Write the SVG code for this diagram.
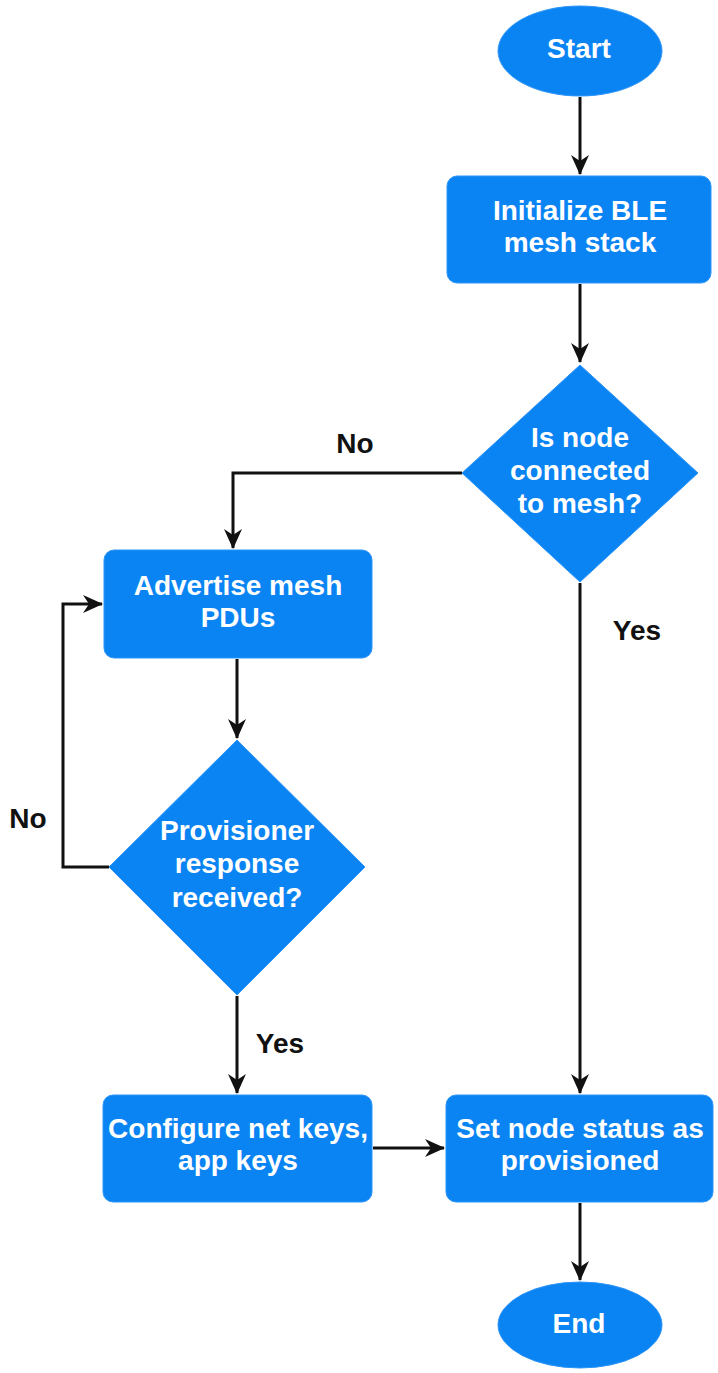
<svg xmlns="http://www.w3.org/2000/svg" width="718" height="1373" viewBox="0 0 718 1373">
<style>
.shape{fill:#0b84f3;stroke:#2e95f7;stroke-width:1}
.t{font-family:"Liberation Sans",Arial,sans-serif;font-weight:bold;font-size:28px;fill:#ffffff;text-anchor:middle}
.lbl{font-family:"Liberation Sans",Arial,sans-serif;font-weight:bold;font-size:28px;fill:#111111;text-anchor:middle}
.c{fill:none;stroke:#111111;stroke-width:3}
</style>
<defs>
<marker id="ah" markerUnits="userSpaceOnUse" markerWidth="20" markerHeight="18" viewBox="0 0 20 18" refX="19" refY="9" orient="auto">
<path d="M0,0 L20,9 L0,18 L6,9 z" fill="#111111"/>
</marker>
</defs>
<rect width="718" height="1373" fill="#ffffff"/>
<g id="connectors">
<path class="c" d="M580,97 L580,174" marker-end="url(#ah)"/>
<path class="c" d="M580,284 L580,362" marker-end="url(#ah)"/>
<path class="c" d="M462,473 L233,473 L233,548" marker-end="url(#ah)"/>
<path class="c" d="M237,659 L237,738" marker-end="url(#ah)"/>
<path class="c" d="M109,867 L63,867 L63,604 L102,604" marker-end="url(#ah)"/>
<path class="c" d="M237,996 L237,1093" marker-end="url(#ah)"/>
<path class="c" d="M580,583 L580,1093" marker-end="url(#ah)"/>
<path class="c" d="M373,1148 L444,1148" marker-end="url(#ah)"/>
<path class="c" d="M580,1203 L580,1280" marker-end="url(#ah)"/>
<text class="lbl" x="355" y="453">No</text>
<text class="lbl" x="637" y="640">Yes</text>
<text class="lbl" x="28" y="828">No</text>
<text class="lbl" x="280" y="1053">Yes</text>
</g>
<g id="start">
<ellipse class="shape" cx="580" cy="51" rx="82" ry="45"/>
<text class="t" x="579" y="58">Start</text>
</g>
<g id="init">
<rect class="shape" x="447" y="176" width="264" height="107" rx="10"/>
<text class="t" x="580" y="220">Initialize BLE</text>
<text class="t" x="580" y="252">mesh stack</text>
</g>
<g id="connected">
<polygon class="shape" points="580,365 698,473 580,582 462,473"/>
<text class="t" x="580" y="447">Is node</text>
<text class="t" x="580" y="480">connected</text>
<text class="t" x="580" y="513">to mesh?</text>
</g>
<g id="advertise">
<rect class="shape" x="104" y="550" width="268" height="108" rx="10"/>
<text class="t" x="238" y="595">Advertise mesh</text>
<text class="t" x="238" y="627">PDUs</text>
</g>
<g id="response">
<polygon class="shape" points="237,740 365,867 237,995 109,867"/>
<text class="t" x="237" y="840">Provisioner</text>
<text class="t" x="237" y="873">response</text>
<text class="t" x="237" y="907">received?</text>
</g>
<g id="configure">
<rect class="shape" x="103" y="1095" width="269" height="107" rx="10"/>
<text class="t" x="238" y="1138">Configure net keys,</text>
<text class="t" x="238" y="1170">app keys</text>
</g>
<g id="setstatus">
<rect class="shape" x="446" y="1095" width="267" height="107" rx="10"/>
<text class="t" x="580" y="1138">Set node status as</text>
<text class="t" x="580" y="1170">provisioned</text>
</g>
<g id="end">
<ellipse class="shape" cx="580" cy="1325" rx="82" ry="43"/>
<text class="t" x="579" y="1333">End</text>
</g>
</svg>
